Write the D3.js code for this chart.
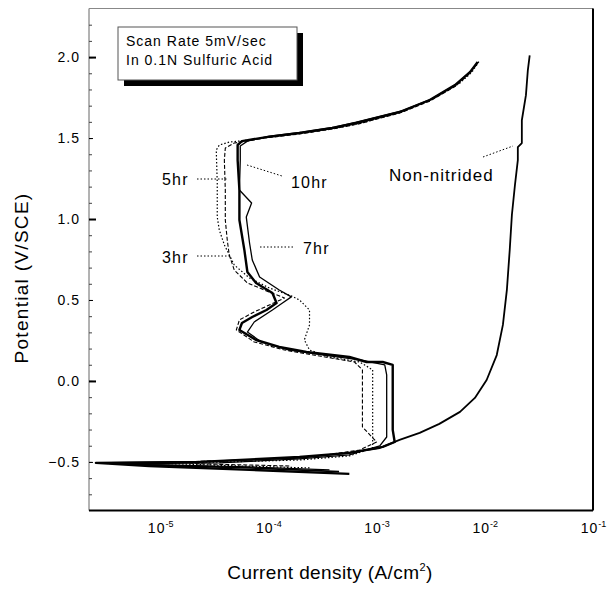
<!DOCTYPE html>
<html>
<head>
<meta charset="utf-8">
<script src="https://cdn.jsdelivr.net/npm/d3@7.9.0/dist/d3.min.js"></script>
<style>
  body { margin: 0; background: #fff; }
  svg { display: block; font-family: "Liberation Sans", Arial, sans-serif; }
</style>
</head>
<body>
<svg id="chart" width="607" height="589"></svg>
<script>
// [potential V/SCE, current density A/cm2]
const nonNitrided = [
  [-0.56, 4.5e-4], [-0.537, 6.7e-5], [-0.519, 7.9e-6], [-0.506, 3.4e-6], [-0.50, 2.3e-5],
  [-0.475, 1.94e-4], [-0.444, 5.6e-4], [-0.414, 1.07e-3], [-0.364, 1.63e-3], [-0.321, 2.5e-3],
  [-0.265, 3.8e-3], [-0.191, 5.9e-3], [-0.105, 8.1e-3], [0.006, 1.04e-2], [0.160, 1.29e-2],
  [0.346, 1.47e-2], [0.562, 1.60e-2], [0.809, 1.70e-2], [1.025, 1.78e-2], [1.210, 1.90e-2],
  [1.364, 2.02e-2], [1.444, 2.02e-2], [1.469, 2.2e-2], [1.61, 2.2e-2], [1.765, 2.4e-2],
  [1.92, 2.5e-2], [2.01, 2.6e-2]
];
const hr10 = [
  [-0.574, 5.6e-4], [-0.549, 6.7e-5], [-0.525, 7.9e-6], [-0.506, 2.55e-6], [-0.500, 2.3e-5],
  [-0.469, 1.94e-4], [-0.444, 5.6e-4], [-0.407, 1.14e-3], [-0.377, 1.47e-3], [-0.302, 1.41e-3],
  [-0.117, 1.41e-3], [0.006, 1.41e-3], [0.099, 1.41e-3], [0.117, 1.14e-3], [0.117, 8.1e-4],
  [0.148, 5.6e-4], [0.160, 3.9e-4], [0.179, 2.25e-4], [0.210, 1.26e-4], [0.253, 7.7e-5],
  [0.315, 5.4e-5], [0.358, 5.7e-5], [0.395, 7.1e-5], [0.438, 9.6e-5], [0.481, 1.19e-4],
  [0.543, 1.09e-4], [0.605, 7.7e-5], [0.673, 6.4e-5], [0.809, 6.0e-5], [0.994, 5.4e-5],
  [1.179, 5.4e-5], [1.364, 5.2e-5], [1.457, 5.2e-5], [1.481, 5.7e-5], [1.506, 9.6e-5],
  [1.531, 1.94e-4], [1.562, 3.9e-4], [1.593, 6.5e-4], [1.660, 1.63e-3], [1.735, 3.1e-3],
  [1.827, 5.3e-3], [1.907, 7.3e-3], [1.969, 8.6e-3]
];
const hr7 = [
  [-0.549, 3.67e-4], [-0.531, 6.7e-5], [-0.512, 4.2e-6], [-0.506, 3.5e-5], [-0.481, 1.94e-4],
  [-0.457, 5.6e-4], [-0.401, 1.07e-3], [-0.346, 1.24e-3], [-0.117, 1.24e-3], [0.037, 1.24e-3],
  [0.099, 1.19e-3], [0.130, 7.0e-4], [0.155, 3.67e-4], [0.191, 1.56e-4], [0.241, 8.6e-5],
  [0.302, 6.4e-5], [0.364, 7.4e-5], [0.438, 1.09e-4], [0.481, 1.35e-4], [0.519, 1.63e-4],
  [0.562, 1.26e-4], [0.642, 8.3e-5], [0.747, 7.1e-5], [0.852, 6.7e-5], [1.012, 6.25e-5],
  [1.099, 7.0e-5], [1.179, 5.4e-5], [1.364, 5.5e-5], [1.451, 5.5e-5], [1.481, 6.4e-5],
  [1.512, 1.02e-4], [1.537, 2.06e-4], [1.568, 4.1e-4], [1.599, 6.5e-4], [1.667, 1.70e-3],
  [1.741, 3.2e-3], [1.833, 5.5e-3], [1.914, 7.4e-3], [1.963, 8.6e-3]
];
const hr5 = [
  [-0.537, 2.4e-4], [-0.525, 5.4e-5], [-0.506, 7.9e-6], [-0.500, 4.35e-5], [-0.488, 1.94e-4],
  [-0.463, 5.6e-4], [-0.414, 9.2e-4], [-0.315, 9.2e-4], [-0.056, 9.2e-4], [0.068, 9.2e-4],
  [0.117, 7.0e-4], [0.148, 3.67e-4], [0.191, 2.4e-4], [0.253, 2.15e-4], [0.346, 2.4e-4],
  [0.438, 2.4e-4], [0.500, 1.94e-4], [0.525, 1.63e-4], [0.574, 1.02e-4], [0.636, 6.7e-5],
  [0.716, 4.84e-5], [0.840, 3.92e-5], [0.932, 3.52e-5], [1.012, 3.37e-5], [1.222, 3.37e-5],
  [1.426, 3.3e-5], [1.457, 3.52e-5], [1.475, 4.35e-5], [1.488, 6.7e-5], [1.506, 1.02e-4],
  [1.531, 2.06e-4], [1.562, 4.26e-4], [1.593, 7.3e-4], [1.667, 1.78e-3], [1.747, 3.44e-3],
  [1.840, 5.9e-3], [1.907, 7.6e-3], [1.981, 9.0e-3]
];
const hr3 = [
  [-0.525, 1.56e-4], [-0.512, 2.3e-5], [-0.500, 1.5e-5], [-0.488, 6.7e-5], [-0.463, 3.0e-4],
  [-0.426, 7.0e-4], [-0.377, 1.0e-3], [-0.284, 7.4e-4], [-0.117, 7.4e-4], [0.068, 7.4e-4],
  [0.117, 6.25e-4], [0.154, 2.97e-4], [0.191, 1.41e-4], [0.241, 7.4e-5], [0.315, 5.06e-5],
  [0.377, 5.4e-5], [0.426, 7.4e-5], [0.469, 1.02e-4], [0.512, 1.41e-4], [0.549, 1.02e-4],
  [0.605, 6.4e-5], [0.685, 4.84e-5], [0.778, 4.35e-5], [0.870, 4.17e-5], [0.994, 4.0e-5],
  [1.179, 4.0e-5], [1.364, 3.92e-5], [1.438, 4.0e-5], [1.469, 4.84e-5], [1.500, 9.2e-5],
  [1.525, 1.94e-4], [1.556, 3.92e-4], [1.586, 6.7e-4], [1.654, 1.63e-3], [1.728, 3.1e-3],
  [1.821, 5.4e-3], [1.901, 7.3e-3], [1.957, 8.4e-3]
];

const xTicks = [1e-5, 1e-4, 1e-3, 1e-2, 1e-1];
const yTicks = [-0.5, 0.0, 0.5, 1.0, 1.5, 2.0];
const legendLines = ["Scan Rate 5mV/sec", "In 0.1N Sulfuric Acid"];

const svg = d3.select('#chart');
const plotL = 89, plotR = 593, plotT = 8.5, plotB = 510.5;
const font = '"Liberation Sans", Arial, sans-serif';

let x = d3.scaleLog().domain([2.2e-6, 0.1]).range([plotL, plotR]);
let y = d3.scaleLinear().domain([-0.8, 2.3]).range([plotB, plotT]);

// frame: thin left/top, heavy right/bottom like the scan
svg.append('line').attr('x1', plotL).attr('x2', plotL).attr('y1', plotT).attr('y2', plotB)
  .attr('stroke', '#666').attr('stroke-width', 1);
svg.append('line').attr('x1', plotL).attr('x2', plotR).attr('y1', plotT).attr('y2', plotT)
  .attr('stroke', '#888').attr('stroke-width', 1);
svg.append('line').attr('x1', plotR).attr('x2', plotR).attr('y1', plotT).attr('y2', plotB)
  .attr('stroke', '#000').attr('stroke-width', 2);
svg.append('line').attr('x1', plotL).attr('x2', plotR).attr('y1', plotB).attr('y2', plotB)
  .attr('stroke', '#000').attr('stroke-width', 2);

// y axis: minor ticks, labelled ticks, heavy integer ticks (all pointing inward)
let minor = d3.range(-7, 23).map((v) => v / 10);
svg.append('g').attr('transform', `translate(${plotL},0)`)
  .call(d3.axisLeft(y).tickValues(minor).tickSize(-3).tickFormat(''))
  .call((g) => g.select('.domain').remove())
  .call((g) => g.selectAll('line').attr('stroke', '#444'));

svg.append('g').attr('transform', `translate(${plotL},0)`)
  .call(d3.axisLeft(y).tickValues(yTicks).tickSize(-4).tickPadding(9).tickFormat(d3.format('.1f')))
  .call((g) => g.select('.domain').remove())
  .call((g) => g.selectAll('text').attr('font-size', 14).attr('letter-spacing', 1)
    .attr('fill', '#000').attr('font-family', font));

svg.append('g').attr('transform', `translate(${plotL},0)`)
  .call(d3.axisLeft(y).tickValues([0, 1, 2]).tickSize(-7).tickFormat(''))
  .call((g) => g.select('.domain').remove())
  .call((g) => g.selectAll('line').attr('stroke', '#000').attr('stroke-width', 2));

// x axis labels only, as 10^n
let xAxis = svg.append('g').attr('transform', `translate(0,${plotB})`)
  .call(d3.axisBottom(x).tickValues(xTicks).tickSize(0).tickFormat(''));
xAxis.select('.domain').remove();
xAxis.selectAll('.tick text').remove();
xAxis.selectAll('.tick').append('text')
  .attr('y', 22).attr('text-anchor', 'middle').attr('font-size', 14).attr('fill', '#000')
  .attr('font-family', font)
  .each(function (d) {
    let t = d3.select(this);
    t.append('tspan').attr('letter-spacing', 1).text('10');
    t.append('tspan').attr('dy', -6).attr('font-size', 9).text(Math.round(Math.log10(d)));
  });

// axis titles
let xTitle = svg.append('text').attr('x', 330).attr('y', 579).attr('text-anchor', 'middle')
  .attr('font-size', 19).attr('letter-spacing', 0.4);
xTitle.append('tspan').text('Current density (A/cm');
xTitle.append('tspan').attr('dy', -8).attr('font-size', 11).text('2');
xTitle.append('tspan').attr('dy', 8).text(')');

svg.append('text').attr('transform', 'translate(28,278) rotate(-90)')
  .attr('text-anchor', 'middle').attr('font-size', 19).attr('letter-spacing', 1.3)
  .text('Potential (V/SCE)');

// curves
let line = d3.line().x((d) => x(d[1])).y((d) => y(d[0]));
let series = [
  { data: nonNitrided, width: 1.8, dash: null },
  { data: hr3, width: 1.1, dash: '4,2' },
  { data: hr5, width: 1.2, dash: '1.5,2' },
  { data: hr7, width: 1.3, dash: null },
  { data: hr10, width: 2.4, dash: null }
];
series.forEach((s) => {
  svg.append('path').attr('d', line(s.data)).attr('fill', 'none')
    .attr('stroke', '#000').attr('stroke-width', s.width)
    .attr('stroke-dasharray', s.dash).attr('stroke-linejoin', 'round');
});

// curve labels with dotted leaders
let labels = [
  { text: '5hr', tx: 162, ty: 185, x1: 197, y1: 179, x2: 227, y2: 179 },
  { text: '10hr', tx: 291, ty: 188, x1: 247, y1: 165, x2: 282, y2: 176 },
  { text: '7hr', tx: 303, ty: 254, x1: 260, y1: 247, x2: 294, y2: 247 },
  { text: '3hr', tx: 162, ty: 263, x1: 197, y1: 256, x2: 230, y2: 256 },
  { text: 'Non-nitrided', tx: 389, ty: 181, x1: 483, y1: 157, x2: 513, y2: 146 }
];
labels.forEach((l) => {
  svg.append('line').attr('x1', l.x1).attr('y1', l.y1).attr('x2', l.x2).attr('y2', l.y2)
    .attr('stroke', '#000').attr('stroke-width', 1).attr('stroke-dasharray', '1.5,2');
  svg.append('text').attr('x', l.tx).attr('y', l.ty)
    .attr('font-size', l.text.length > 4 ? 17 : 16)
    .attr('letter-spacing', l.text.length > 4 ? 1 : 1.2).text(l.text);
});

// legend box with drop shadow
svg.append('rect').attr('x', 124).attr('y', 33).attr('width', 179).attr('height', 53).attr('fill', '#000');
svg.append('rect').attr('x', 118).attr('y', 27).attr('width', 179).attr('height', 53)
  .attr('fill', '#fff').attr('stroke', '#555').attr('stroke-width', 1);
legendLines.forEach((t, i) => {
  svg.append('text').attr('x', 126).attr('y', 46 + i * 19).attr('font-size', 14)
    .attr('letter-spacing', 1).text(t);
});
</script>
</body>
</html>
